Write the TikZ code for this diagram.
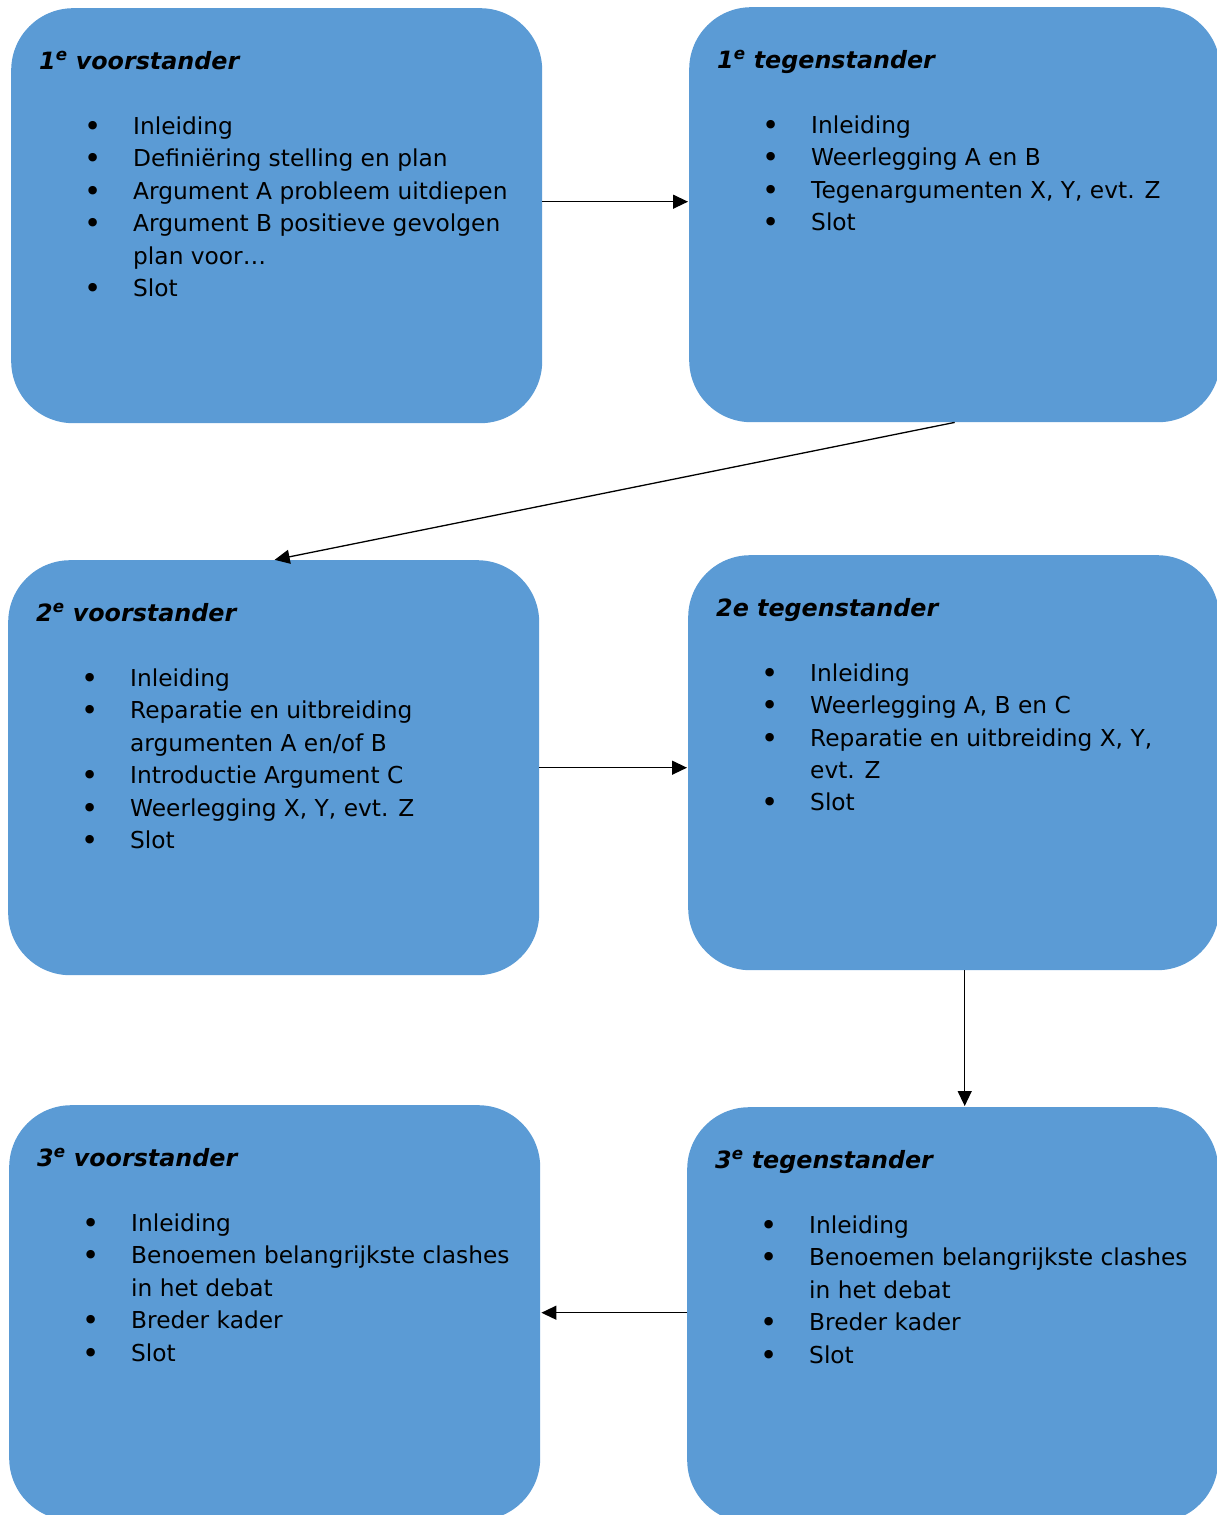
\documentclass[tikz,border=0pt]{standalone}
\usepackage{fontspec}
\setmainfont{DejaVu Sans}
\usepackage{tikz}
\usetikzlibrary{arrows.meta}
\definecolor{vakblauw}{HTML}{5B9BD5}
\newcommand{\kop}[1]{\noindent{\fontsize{23.8}{32.4}\selectfont\bfseries\itshape #1}\par\vspace{32.6pt}}
\newcommand{\punt}[1]{\par\hangindent=94pt\hangafter=1\noindent\makebox[94pt][l]{\hspace{45pt}\raisebox{-2pt}{\scalebox{1.25}{\textbullet}}}#1\par}

\begin{document}
\begin{tikzpicture}[x=1pt, y=1pt]
	\tikzstyle{vak} = [draw=none, fill=vakblauw, rounded corners=62pt, anchor=north west, inner xsep=28pt, inner ysep=43pt, font=\fontsize{23.3}{32.4}\selectfont, align=left]
	\tikzstyle{pijl} = [-{Triangle[length=15pt, width=14pt]}, line width=1.3pt, shorten >=1pt]
	\useasboundingbox (0,0) rectangle (1216,-1515);
	\node [vak] (v1) at (11, -8) {\parbox[t][329pt][t]{475pt}{\raggedright
		\kop{1\textsuperscript{e} voorstander}
		\punt{Inleiding}
		\punt{Definiëring stelling en plan}
		\punt{Argument A probleem uitdiepen}
		\punt{Argument B positieve gevolgen\newline plan voor…}
		\punt{Slot}}};
	\node [vak] (t1) at (689, -7) {\parbox[t][329pt][t]{475pt}{\raggedright
		\kop{1\textsuperscript{e} tegenstander}
		\punt{Inleiding}
		\punt{Weerlegging A en B}
		\punt{Tegenargumenten X, Y, evt. Z}
		\punt{Slot}}};
	\node [vak] (v2) at (8, -560) {\parbox[t][329pt][t]{475pt}{\raggedright
		\kop{2\textsuperscript{e} voorstander}
		\punt{Inleiding}
		\punt{Reparatie en uitbreiding\newline argumenten A en/of B}
		\punt{Introductie Argument C}
		\punt{Weerlegging X, Y, evt. Z}
		\punt{Slot}}};
	\node [vak] (t2) at (688, -555) {\parbox[t][329pt][t]{475pt}{\raggedright
		\kop{2e tegenstander}
		\punt{Inleiding}
		\punt{Weerlegging A, B en C}
		\punt{Reparatie en uitbreiding X, Y,\newline evt. Z}
		\punt{Slot}}};
	\node [vak] (v3) at (9, -1105) {\parbox[t][329pt][t]{475pt}{\raggedright
		\kop{3\textsuperscript{e} voorstander}
		\punt{Inleiding}
		\punt{Benoemen belangrijkste clashes\newline in het debat}
		\punt{Breder kader}
		\punt{Slot}}};
	\node [vak] (t3) at (687, -1107) {\parbox[t][329pt][t]{475pt}{\raggedright
		\kop{3\textsuperscript{e} tegenstander}
		\punt{Inleiding}
		\punt{Benoemen belangrijkste clashes\newline in het debat}
		\punt{Breder kader}
		\punt{Slot}}};
	\draw [pijl] ([yshift=14pt]v1.east) -- ([yshift=14pt]v1.east -| t1.west);
	\draw [pijl] (t1.south) -- (v2.north);
	\draw [pijl] (v2.east) -- (v2.east -| t2.west);
	\draw [pijl] ([xshift=11pt]t2.south) -- ([xshift=11pt]t2.south |- t3.north);
	\draw [pijl] (t3.west |- v3.east) -- (v3.east);
\end{tikzpicture}
\end{document}
